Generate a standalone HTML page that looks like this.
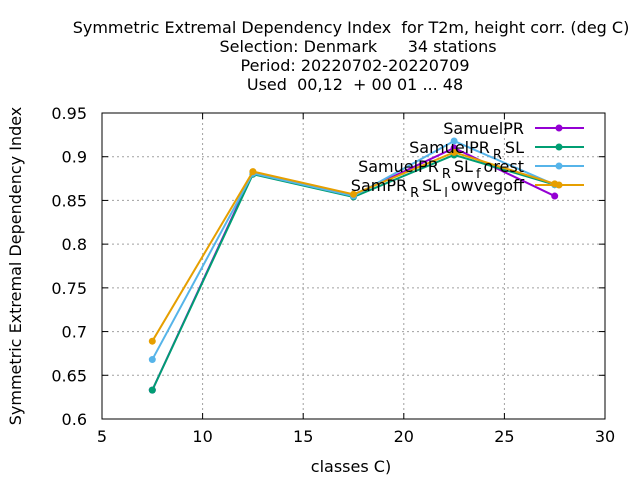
<!DOCTYPE html>
<html><head><meta charset="utf-8"><style>
body{margin:0;background:#fff;}
svg{font-family:"DejaVu Sans","Liberation Sans",sans-serif;}
text{white-space:pre;}
</style></head><body>
<svg id="c" width="640" height="480">
<g font-size="16" text-anchor="middle" fill="#000">
<text x="351" y="33">Symmetric Extremal Dependency Index  for T2m, height corr. (deg C)</text>
<text x="358" y="52">Selection: Denmark      34 stations</text>
<text x="355" y="71">Period: 20220702-20220709</text>
<text x="355" y="90">Used  00,12  + 00 01 ... 48</text>
</g>
<g id="grid"></g>
<g id="axes"></g>
<g id="series"></g>
<g id="legend"></g>
<text x="351" y="472" font-size="16" text-anchor="middle">classes C)</text>
<text transform="translate(21,266) rotate(-90)" font-size="16" text-anchor="middle">Symmetric Extremal Dependency Index</text>
</svg>
<script>
const categories=[7.5,12.5,17.5,22.5,27.5];
const samuelPR=[0.633,0.882,0.856,0.910,0.855];
const samuelPR_RSL=[0.633,0.880,0.854,0.902,0.868];
const samuelPR_RSL_forest=[0.668,0.881,0.855,0.918,0.868];
const samPR_RSL_lowvegoff=[0.689,0.883,0.857,0.905,0.869];
const xTicks=[5,10,15,20,25,30];
const yTicks=[0.6,0.65,0.7,0.75,0.8,0.85,0.9,0.95];
const yTickLabels=["0.6","0.65","0.7","0.75","0.8","0.85","0.9","0.95"];
const L=102,R=605,T=113,B=419;
const X=v=>L+(v-5)/25*(R-L);
const Y=v=>B-(v-0.6)/0.35*(B-T);
const NS='http://www.w3.org/2000/svg';
function mk(p,tag,a){const e=document.createElementNS(NS,tag);for(const k in a)e.setAttribute(k,a[k]);p.appendChild(e);return e;}
const grid=document.getElementById('grid'),axes=document.getElementById('axes');
xTicks.forEach(t=>{
 if(t>5&&t<30){const g=mk(grid,'line',{x1:X(t),x2:X(t),y1:T,y2:B,stroke:'#a0a0a0','stroke-dasharray':'2,3'});
 }
 mk(axes,'line',{x1:X(t),x2:X(t),y1:B,y2:B-6,stroke:'#000'});
 mk(axes,'line',{x1:X(t),x2:X(t),y1:T,y2:T+6,stroke:'#000'});
 const tx=mk(axes,'text',{x:X(t),y:B+23,'font-size':16,'text-anchor':'middle'});tx.textContent=t;
 
});
yTicks.forEach((t,i)=>{
 if(i>0&&i<yTicks.length-1){const g=mk(grid,'line',{x1:L,x2:R,y1:Y(t),y2:Y(t),stroke:'#a0a0a0','stroke-dasharray':'2,3'});
 }
 mk(axes,'line',{x1:L,x2:L+6,y1:Y(t),y2:Y(t),stroke:'#000'});
 mk(axes,'line',{x1:R,x2:R-6,y1:Y(t),y2:Y(t),stroke:'#000'});
 const tx=mk(axes,'text',{x:L-15,y:Y(t)+6,'font-size':16,'text-anchor':'end'});tx.textContent=yTickLabels[i];
 
});
const fr=mk(axes,'rect',{x:L,y:T,width:R-L,height:B-T,fill:'none',stroke:'#000'});

const series=[
 {vals:samuelPR,c:'#9400d3'},
 {vals:samuelPR_RSL,c:'#009e73'},
 {vals:samuelPR_RSL_forest,c:'#56b4e9'},
 {vals:samPR_RSL_lowvegoff,c:'#e69f00'}];
const labels=[
 ['SamuelPR'],['SamuelPR','R','SL'],['SamuelPR','R','SL','f','orest'],['SamPR','R','SL','l','owvegoff']];
const sg=document.getElementById('series'),lg=document.getElementById('legend');
series.forEach((s,i)=>{
 const pl=mk(sg,'polyline',{points:categories.map((c,j)=>X(c)+','+Y(s.vals[j])).join(' '),fill:'none',stroke:s.c,'stroke-width':2});
 
 categories.forEach((c,j)=>{const p=mk(sg,'circle',{cx:X(c),cy:Y(s.vals[j]),r:3.5,fill:s.c});
  });
 const ly=128+i*19;
 const ll=mk(lg,'line',{x1:535,x2:584,y1:ly,y2:ly,stroke:s.c,'stroke-width':2});
 
 mk(lg,'circle',{cx:559,cy:ly,r:3.5,fill:s.c});
 const t=mk(lg,'text',{x:524,y:ly+6,'font-size':16,'text-anchor':'end'});
 
 const parts=labels[i];
 parts.forEach((p,k)=>{const ts=mk(t,'tspan',{});ts.textContent=p;
  if(k%2==1){ts.setAttribute('font-size','13');ts.setAttribute('dy','6');ts.setAttribute('dx','3');}
  else if(k>0){ts.setAttribute('dy','-6');ts.setAttribute('dx','3');}});
});
</script>
</body></html>
